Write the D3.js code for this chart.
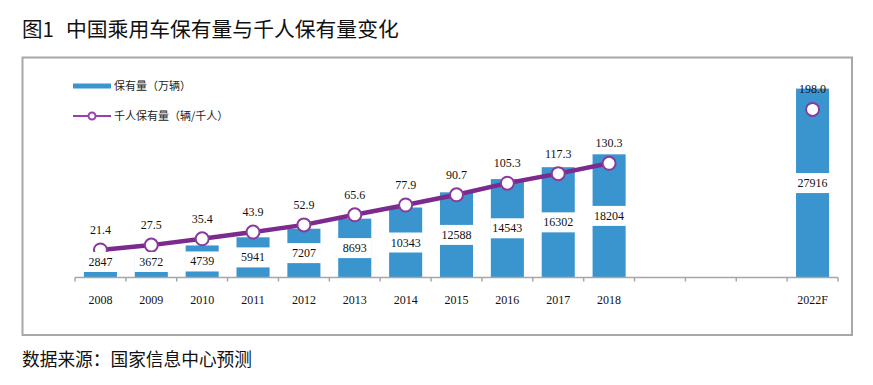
<!DOCTYPE html>
<html>
<head>
<meta charset="utf-8">
<script src="https://cdn.jsdelivr.net/npm/d3@7"></script>
<style>
  body { margin: 0; background: #fff; }
  .cn { font-family: "Noto Sans CJK SC", sans-serif; }
  .num { font-family: "Liberation Serif", "Times New Roman", serif; font-size: 12px; fill: #111; }
</style>
</head>
<body>
<svg width="873" height="385"></svg>
<script>
  const categories = ["2008", "2009", "2010", "2011", "2012", "2013", "2014", "2015", "2016", "2017", "2018", "2019", "2020", "2021", "2022F"];
  const tickLabels = ["2008", "2009", "2010", "2011", "2012", "2013", "2014", "2015", "2016", "2017", "2018", "", "", "", "2022F"];
  const stock = [2847, 3672, 4739, 5941, 7207, 8693, 10343, 12588, 14543, 16302, 18204, null, null, null, 27916];
  const perThousand = [21.4, 27.5, 35.4, 43.9, 52.9, 65.6, 77.9, 90.7, 105.3, 117.3, 130.3, null, null, null, 198.0];

  const svg = d3.select("svg");
  const barColor = "#3a95cf";
  const lineColor = "#7b2a8e";

  // title: figure number, then the caption
  svg.append("text")
    .attr("class", "cn")
    .attr("x", 22)
    .attr("y", 37)
    .attr("font-size", 20.5)
    .attr("fill", "#111")
    .text("图1");
  svg.append("text")
    .attr("class", "cn")
    .attr("x", 66)
    .attr("y", 37)
    .attr("font-size", 20.8)
    .attr("fill", "#111")
    .text("中国乘用车保有量与千人保有量变化");

  svg.append("rect")
    .attr("x", 22.5)
    .attr("y", 57.5)
    .attr("width", 829.5)
    .attr("height", 277.5)
    .attr("fill", "none")
    .attr("stroke", "#a8a8a8")
    .attr("stroke-width", 2);

  svg.append("text")
    .attr("class", "cn")
    .attr("x", 22)
    .attr("y", 366)
    .attr("font-size", 17.7)
    .attr("fill", "#111")
    .text("数据来源：国家信息中心预测");

  const baseline = 277.5;
  const x = d3.scaleBand()
    .domain(categories)
    .range([75, 838])
    .paddingInner(0.35)
    .paddingOuter(0.175);
  const cellLeft = (c) => x(c) - x.step() * x.paddingInner() / 2;

  const yBar = d3.scaleLinear().domain([0, 30000]).range([baseline, baseline - 203]);
  const yLine = d3.scaleLinear().domain([0, 200]).range([267, 107.8]);

  const data = categories.map((c, i) => ({ c, label: tickLabels[i], stock: stock[i], pt: perThousand[i] }));

  const g = svg.append("g");

  // bars
  g.selectAll(".bar")
    .data(data.filter((d) => d.stock != null))
    .join("rect")
    .attr("class", "bar")
    .attr("x", (d) => x(d.c))
    .attr("y", (d) => yBar(d.stock))
    .attr("width", x.bandwidth())
    .attr("height", (d) => baseline - yBar(d.stock))
    .attr("fill", barColor);

  // axis
  g.append("line")
    .attr("x1", x.range()[0]).attr("x2", x.range()[1])
    .attr("y1", baseline).attr("y2", baseline)
    .attr("stroke", "#a6a6a6").attr("stroke-width", 1.5);
  const edges = categories.map(cellLeft).concat([x.range()[1]]);
  g.selectAll(".tick")
    .data(edges)
    .join("line")
    .attr("class", "tick")
    .attr("x1", (d) => d).attr("x2", (d) => d)
    .attr("y1", baseline).attr("y2", baseline + 4)
    .attr("stroke", "#a6a6a6").attr("stroke-width", 1.5);
  g.selectAll(".xlab")
    .data(data)
    .join("text")
    .attr("class", "xlab num")
    .attr("x", (d) => x(d.c) + x.bandwidth() / 2)
    .attr("y", 304)
    .attr("text-anchor", "middle")
    .text((d) => d.label);

  // line
  const line = d3.line()
    .defined((d) => d.pt != null)
    .x((d) => x(d.c) + x.bandwidth() / 2)
    .y((d) => yLine(d.pt));
  g.append("path")
    .attr("d", line(data))
    .attr("fill", "none")
    .attr("stroke", lineColor)
    .attr("stroke-width", 4.5)
    .attr("stroke-linejoin", "round");
  g.selectAll(".dot")
    .data(data.filter((d) => d.pt != null))
    .join("circle")
    .attr("class", "dot")
    .attr("cx", (d) => x(d.c) + x.bandwidth() / 2)
    .attr("cy", (d) => yLine(d.pt))
    .attr("r", 6.5)
    .attr("fill", "#fff")
    .attr("stroke", "#8a3a9e")
    .attr("stroke-width", 2);

  // bar value labels with white boxes
  const labelY = (d) => Math.min((baseline + yBar(d.stock)) / 2, baseline - 15.5);
  const bl = g.selectAll(".blab")
    .data(data.filter((d) => d.stock != null))
    .join("g")
    .attr("class", "blab");
  bl.append("rect")
    .attr("x", (d) => x(d.c) - 0.5)
    .attr("y", (d) => labelY(d) - 10)
    .attr("width", x.bandwidth() + 1)
    .attr("height", 20)
    .attr("fill", "#fff");
  bl.append("text")
    .attr("class", "num")
    .attr("x", (d) => x(d.c) + x.bandwidth() / 2)
    .attr("y", (d) => labelY(d) + 4)
    .attr("text-anchor", "middle")
    .text((d) => d.stock);

  // line value labels
  g.selectAll(".llab")
    .data(data.filter((d) => d.pt != null))
    .join("text")
    .attr("class", "llab num")
    .attr("x", (d) => x(d.c) + x.bandwidth() / 2)
    .attr("y", (d) => yLine(d.pt) - 16)
    .attr("text-anchor", "middle")
    .text((d) => d3.format(".1f")(d.pt));

  // legend
  const lg = svg.append("g");
  lg.append("line")
    .attr("x1", 73).attr("x2", 111).attr("y1", 86).attr("y2", 86)
    .attr("stroke", barColor).attr("stroke-width", 5);
  lg.append("text")
    .attr("class", "cn").attr("x", 114).attr("y", 90)
    .attr("font-size", 11).attr("fill", "#222")
    .text("保有量（万辆）");
  lg.append("line")
    .attr("x1", 73).attr("x2", 111).attr("y1", 116).attr("y2", 116)
    .attr("stroke", "#9c3fae").attr("stroke-width", 2);
  lg.append("circle")
    .attr("cx", 92).attr("cy", 116).attr("r", 3.5)
    .attr("fill", "#fff").attr("stroke", "#9c3fae").attr("stroke-width", 2);
  lg.append("text")
    .attr("class", "cn").attr("x", 114).attr("y", 120)
    .attr("font-size", 11).attr("fill", "#222")
    .text("千人保有量（辆/千人）");
</script>
</body>
</html>
